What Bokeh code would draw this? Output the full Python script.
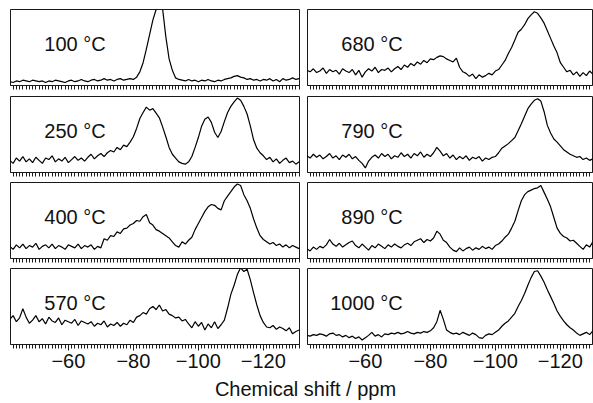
from bokeh.plotting import figure
from bokeh.models import Range1d, FixedTicker, Label
from bokeh.layouts import gridplot, column
from bokeh.embed import file_html
from bokeh.resources import INLINE

# chemical shift grid (ppm), one sample per ppm
ppm = list(range(-42, -132, -1))

temps_left = ["100 °C", "250 °C", "400 °C", "570 °C"]
temps_right = ["680 °C", "790 °C", "890 °C", "1000 °C"]

s100 = [5, 4, 6, 5, 7, 6, 5, 7, 6, 5, 6, 4, 6, 5, 7, 6, 5, 4, 6, 7, 5, 6, 8, 6, 5, 7, 8, 6, 7, 9,
        7, 8, 6, 8, 9, 7, 8, 9, 8,
        11, 18, 30, 48, 67, 86, 100, 105, 101, 64, 35, 20, 10,
        8, 7, 6, 8, 6, 7, 5, 7, 6, 8, 6, 5, 7, 6, 8, 9, 10, 12, 13, 11, 10, 8, 9, 7, 8, 6, 8, 7,
        9, 6, 8, 5, 9, 7, 8, 10, 8, 9]

s250 = [16, 12, 19, 15, 21, 14, 18, 13, 20, 16, 12, 19, 17, 22, 14, 18, 15, 20, 13, 17, 21, 16, 19, 15,
        20, 24, 18, 22, 25, 21, 26,
        29, 27, 33, 30, 36, 34,
        40, 47, 58, 71, 79, 86, 82, 84, 78, 72, 60, 47, 33, 24, 19, 14, 12, 11,
        14, 21, 33, 46, 61, 70, 73, 66, 53, 46, 54, 67, 79, 87, 93, 98, 95, 87, 77, 61, 43, 32, 26, 22,
        17, 20, 14, 18, 12, 16, 19, 13, 15, 11, 14]

s400 = [16, 12, 18, 14, 19, 13, 17, 15, 20, 12, 16, 18, 14, 19, 13, 17, 15, 12, 18, 16, 14, 19, 13, 17,
        15, 18, 12, 16, 14,
        26, 24, 30, 29, 35, 33, 39, 40, 44, 46, 50, 49, 55, 58, 47, 44, 38, 36, 33, 30, 27, 22, 17, 15,
        22, 19,
        24, 28, 38, 46, 54, 62, 68, 71, 70, 66, 64, 76, 82, 88, 94, 98, 96, 84, 76, 66, 52, 40, 30, 25,
        22, 19, 21, 17, 19, 15, 18, 14, 17, 15, 13]

s570 = [33, 38, 30, 35, 47, 36, 28, 32, 38, 30, 34, 27, 36, 31, 29, 35, 26, 32, 30, 28, 33, 25, 31, 29,
        27, 30, 24, 28, 26, 31, 23, 27, 25, 29,
        24, 28, 26, 32, 29, 36, 38, 42, 40, 47, 50, 46, 52, 44, 46, 40, 38, 35, 36, 31, 33, 27, 22,
        30, 24, 29, 19, 27, 22, 30, 21, 26, 32,
        48, 66, 78, 92, 101, 96, 99, 85, 68, 52, 38, 29, 23, 22, 25, 20, 23, 21, 18, 22, 14, 17, 19]

s680 = [20, 18, 22, 17, 19, 23, 16, 21, 18, 20, 15, 22, 19, 17, 21, 14, 20, 11, 18, 22, 19, 24, 17, 21,
        20, 23, 18, 22, 25,
        21, 27, 24, 29, 26, 31, 28, 33, 30, 35, 34, 37, 39, 38, 35, 33, 31, 36, 24, 18, 16, 12, 15, 9,
        14, 11, 13, 16, 14, 19,
        21, 27, 33, 42, 50, 60, 70, 74, 80, 88, 93, 97, 95, 89, 82, 72, 62, 52, 43, 30, 24, 18, 20, 14,
        18, 12, 17, 13, 19, 15, 18]

s790 = [22, 19, 24, 20, 23, 18, 21, 25, 19, 22, 17, 23, 20, 24, 18, 21, 16, 12, 6, 15, 20, 23, 19, 25,
        21, 24, 18, 22, 20, 26, 21, 24, 19, 25, 22, 27, 20, 24, 21, 26, 33, 28, 22, 25, 19, 23, 17, 21,
        18, 22, 16, 20, 18, 21, 15, 19, 17, 20, 21,
        26, 32, 35, 38, 42, 46, 55, 64, 74, 84, 90, 95, 97, 94, 80, 62, 52, 44, 40, 35, 30, 27, 24, 22,
        20, 21, 17, 19, 16, 18, 15]

s890 = [13, 10, 15, 12, 16, 14, 18, 25, 19, 16, 20, 15, 18, 21, 23, 17, 14, 19, 15, 11, 17, 14, 19, 16,
        13, 18, 15, 19, 16, 14, 18, 20, 17, 22, 24, 26, 21, 25, 23, 27, 36, 32, 24, 21, 15, 11, 9, 14,
        10, 13, 15, 11, 14, 12, 16, 13, 15, 12, 17,
        19, 23, 28, 32, 40, 49, 63, 76, 84, 88, 90, 92, 93, 96, 87, 78, 68, 54, 40, 33, 29, 27, 23, 24,
        20, 16, 12, 18, 15, 22, 19]

s1000 = [12, 11, 13, 12, 14, 13, 11, 14, 15, 12, 13, 10, 12, 9, 11, 8, 10, 6, 9, 12, 16, 11, 13, 10,
         14, 13, 15, 14, 16, 14, 15, 17, 15, 14, 16, 15, 17, 16, 18, 22, 30, 45, 33, 19, 16, 14, 15, 13,
         16, 14, 12, 15, 13, 9, 8, 12, 14, 13, 16,
         19, 24, 28, 31, 36, 41, 50, 58, 67, 78, 88, 96, 97, 90, 82, 72, 63, 54, 44, 37, 31, 26, 22, 19,
         15, 12, 14, 16, 13, 18, 16]

tick_values = [-60, -80, -100, -120]
tick_labels = ["\u221260", "\u221280", "\u2212100", "\u2212120"]
minor_tick_values = list(range(-43, -132, -1))
x_label = "Chemical shift / ppm"

FONT = "Liberation Sans"
PX_PER_PPM = 3.25


def make_panel(name, ys, col, row):
    last = row == 3
    heights = [95, 86, 86, 111]
    tops = [9, 1, 1, 1]
    bottoms = [10, 9, 9, 34]
    w = 303 if col == 0 else 290
    bl = 10 if col == 0 else 4
    br = 4 if col == 0 else 1
    frame_w = w - bl - br
    x0 = -42.2
    x1 = x0 - frame_w / PX_PER_PPM
    p = figure(width=w, height=heights[row], x_range=Range1d(x0, x1), y_range=Range1d(0, 100),
               output_backend="svg", toolbar_location=None, y_axis_type=None,
               min_border_left=bl, min_border_right=br, min_border_top=tops[row],
               min_border_bottom=bottoms[row])
    p.outline_line_color = "#1a1a1a"
    p.outline_line_width = 1
    p.xgrid.visible = False
    p.ygrid.visible = False
    p.background_fill_color = "white"
    p.border_fill_color = "white"
    ax = p.xaxis[0]
    if last:
        ax.ticker = FixedTicker(ticks=tick_values, minor_ticks=minor_tick_values)
        ax.major_label_overrides = {t: l for t, l in zip(tick_values, tick_labels)}
        ax.major_label_text_font = FONT
        ax.major_label_text_color = "#111111"
        ax.major_label_text_font_size = "20px"
        ax.major_label_standoff = 3
    else:
        ax.ticker = FixedTicker(ticks=[], minor_ticks=minor_tick_values)
    ax.major_tick_out = 6
    ax.major_tick_in = 0
    ax.minor_tick_out = 4
    ax.minor_tick_in = 0
    ax.axis_line_color = "#1a1a1a"
    ax.major_tick_line_color = "#1a1a1a"
    ax.minor_tick_line_color = "#1a1a1a"
    p.line(ppm, ys, line_color="black", line_width=1.2)
    p.add_layout(Label(x=-71.5, y=54, text=name, text_align="right", text_baseline="middle",
                       text_font=FONT, text_font_size="20px", text_color="#111111"))
    return p


left_series = [s100, s250, s400, s570]
right_series = [s680, s790, s890, s1000]

rows = []
for r in range(4):
    rows.append([make_panel(temps_left[r], left_series[r], 0, r),
                 make_panel(temps_right[r], right_series[r], 1, r)])

grid = gridplot(rows, toolbar_location=None)

xfig = figure(width=593, height=22, x_range=Range1d(0, 593), y_range=Range1d(0, 22),
              output_backend="svg", toolbar_location=None, x_axis_type=None, y_axis_type=None,
              min_border=0)
xfig.outline_line_color = None
xfig.xgrid.visible = False
xfig.ygrid.visible = False
xfig.add_layout(Label(x=305, y=12, x_units="screen", y_units="screen", text=x_label,
                      text_align="center", text_baseline="middle", text_font=FONT,
                      text_font_size="20px", text_color="#111111"))

layout = column(grid, xfig)

open("out.html", "w").write(file_html(layout, INLINE))
